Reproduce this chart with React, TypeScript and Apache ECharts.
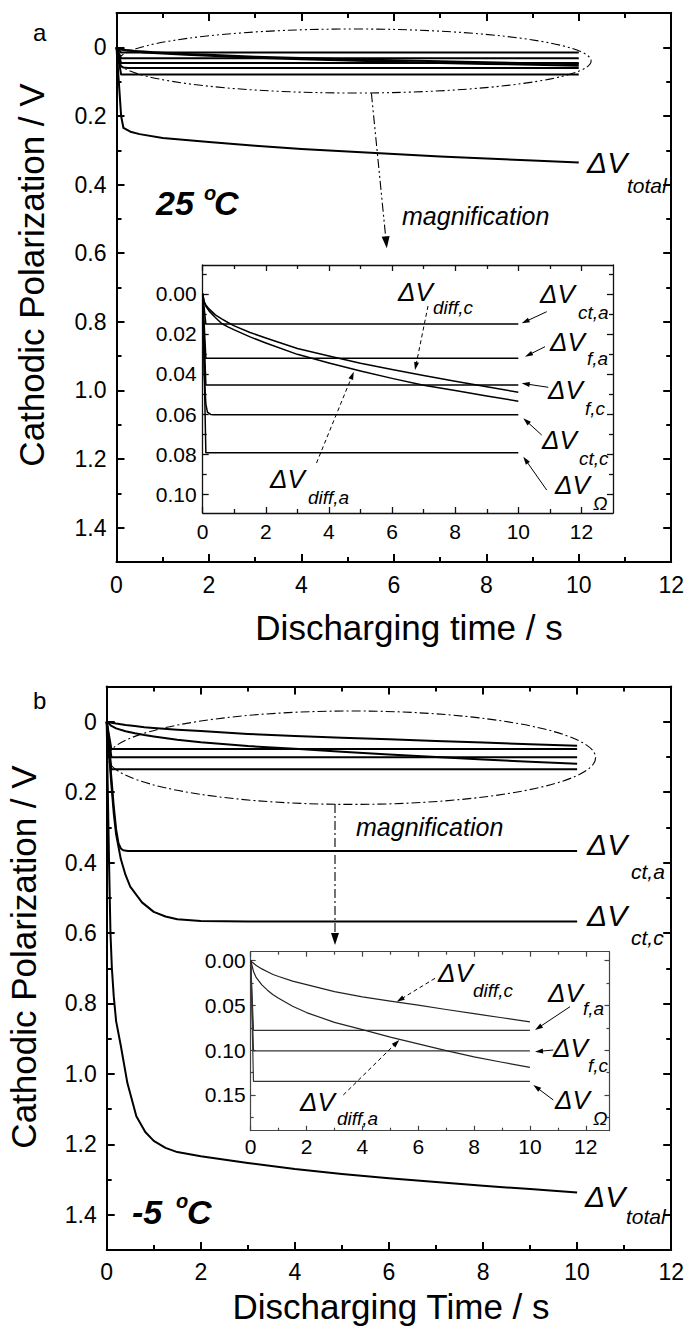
import React, { useEffect, useRef } from "react";
import * as echarts from "echarts";

const FONT = '"Liberation Sans", Arial, Helvetica, sans-serif';

// ---------- Panel a (25 °C) ----------
const tStepA = [0, 0.1, 10];
const ohmA = [0, 0.0793, 0.0793];
const ctaA = [0, 0.0151, 0.0151];
const faA = [0, 0.0322, 0.0322];
const fcA = [0, 0.0455, 0.0455];
const tCtcA = [0, 0.05, 0.1, 0.15, 0.25, 0.35, 10];
const ctcA = [0, 0.04, 0.055, 0.059, 0.0602, 0.0603, 0.0603];
const tDiff = [0, 0.05, 0.1, 0.2, 0.4, 0.6, 0.8, 1, 1.5, 2, 3, 4, 5, 6, 7, 8, 9, 10];
const diffcA = [0, 0.004, 0.0055, 0.0075, 0.0105, 0.0125, 0.0143, 0.016, 0.0193, 0.022, 0.0273, 0.031, 0.0346, 0.0378, 0.0408, 0.0436, 0.0464, 0.0491];
const diffaA = [0, 0.0045, 0.0062, 0.0085, 0.0118, 0.0148, 0.0165, 0.018, 0.0215, 0.0245, 0.0302, 0.0345, 0.0385, 0.0422, 0.0456, 0.0483, 0.051, 0.0536];
const tTotA = [0, 0.05, 0.1, 0.15, 0.3, 0.5, 1, 2, 3, 4, 5, 6, 7, 8, 9, 10];
const totA = [0, 0.1, 0.2, 0.235, 0.246, 0.253, 0.264, 0.276, 0.287, 0.296, 0.304, 0.311, 0.318, 0.324, 0.33, 0.336];

// ---------- Panel b (-5 °C) ----------
const tStepB = [0, 0.1, 10];
const faB = [0, 0.0778, 0.0778];
const fcB = [0, 0.1008, 0.1008];
const ohmB = [0, 0.1348, 0.1348];
const tCtaB = [0, 0.05, 0.1, 0.15, 0.2, 0.25, 0.3, 0.35, 0.45, 0.6, 10];
const ctaB = [0, 0.08, 0.16, 0.24, 0.305, 0.345, 0.36, 0.365, 0.367, 0.367, 0.367];
const tCtcB = [0, 0.05, 0.1, 0.15, 0.2, 0.3, 0.4, 0.5, 0.75, 1, 1.25, 1.5, 2, 3, 10];
const ctcB = [0, 0.09, 0.18, 0.26, 0.32, 0.39, 0.435, 0.468, 0.513, 0.54, 0.553, 0.561, 0.566, 0.5675, 0.5675];
const diffcB = [0, 0.0018, 0.003, 0.0053, 0.0092, 0.0124, 0.0155, 0.0177, 0.0228, 0.0267, 0.0346, 0.0404, 0.0452, 0.0497, 0.0546, 0.0592, 0.0638, 0.0685];
const diffaB = [0, 0.006, 0.012, 0.019, 0.027, 0.033, 0.038, 0.042, 0.051, 0.058, 0.069, 0.077, 0.0855, 0.093, 0.1005, 0.1075, 0.1135, 0.1193];
const tTotB = [0, 0.02, 0.05, 0.08, 0.11, 0.15, 0.2, 0.3, 0.44, 0.63, 0.82, 1, 1.25, 1.5, 2, 3, 4, 5, 6, 7, 8, 9, 10];
const totB = [0, 0.17, 0.4, 0.6, 0.7, 0.78, 0.85, 0.92, 1.026, 1.12, 1.165, 1.19, 1.21, 1.222, 1.234, 1.253, 1.27, 1.284, 1.296, 1.307, 1.3175, 1.327, 1.3365];

// ---------- Ticks ----------
const xMajor = [0, 2, 4, 6, 8, 10, 12];
const xMinor = [1, 3, 5, 7, 9, 11];
const mainYMajor = [0, 0.2, 0.4, 0.6, 0.8, 1.0, 1.2, 1.4];
const mainYMinor = [0.1, 0.3, 0.5, 0.7, 0.9, 1.1, 1.3];
const insetAYMajor = [0, 0.02, 0.04, 0.06, 0.08, 0.1];
const insetAYMinor = [-0.01, 0.01, 0.03, 0.05, 0.07, 0.09];
const insetBYMajor = [0, 0.05, 0.1, 0.15];
const insetBYMinor = [0.025, 0.075, 0.125, 0.175];

type AxisSpec = {
  grid: number; min: number; max: number; majors: number[]; minors: number[];
  fmt: (v: number) => string; majorLen: number; minorLen: number; lineW: number;
  color: string; labelSize: number; labelMargin: number;
};

function addAxes(dim: "x" | "y", s: AxisSpec, list: any[]): number {
  const positions = dim === "x" ? ["bottom", "top"] : ["left", "right"];
  const base = {
    type: "value", gridIndex: s.grid, min: s.min, max: s.max, inverse: dim === "y",
    splitLine: { show: false }, minorTick: { show: false }, minorSplitLine: { show: false },
    silent: true, scale: false,
  };
  const mainIdx = list.length;
  positions.forEach((pos, pi) => {
    list.push({
      ...base, position: pos,
      axisLine: { show: true, onZero: false, lineStyle: { color: s.color, width: s.lineW } },
      axisTick: { show: true, inside: true, length: s.majorLen, customValues: s.majors, lineStyle: { color: s.color, width: s.lineW } },
      axisLabel: pi === 0
        ? { show: true, customValues: s.majors, formatter: s.fmt, fontSize: s.labelSize, fontFamily: FONT, color: "#000", margin: s.labelMargin }
        : { show: false },
    });
    list.push({
      ...base, position: pos,
      axisLine: { show: false, onZero: false },
      axisTick: { show: true, inside: true, length: s.minorLen, customValues: s.minors, lineStyle: { color: s.color, width: s.lineW } },
      axisLabel: { show: false },
    });
  });
  return mainIdx;
}

function ser(xs: number[], ys: number[], xi: number, yi: number, w: number, color = "#000") {
  return {
    type: "line", xAxisIndex: xi, yAxisIndex: yi, data: xs.map((x, i) => [x, ys[i]]),
    showSymbol: false, symbol: "none", lineStyle: { width: w, color, join: "round" }, clip: true, silent: true,
    smooth: false, z: 3,
  };
}

function txt(text: string, x: number, y: number, font: string, align = "left", rotation = 0) {
  return {
    type: "text", x, y, rotation, silent: true, z: 100,
    style: { text, font, fill: "#000", align, textAlign: align, verticalAlign: "middle", textVerticalAlign: "middle" },
  };
}

function arrow(x1: number, y1: number, x2: number, y2: number, dash: number[] | null, lw: number, hl: number, hw: number) {
  const dx = x2 - x1, dy = y2 - y1, L = Math.hypot(dx, dy);
  const ux = dx / L, uy = dy / L;
  const bx = x2 - ux * hl, by = y2 - uy * hl;
  const px = -uy, py = ux;
  const st: any = { stroke: "#000", lineWidth: lw, fill: null };
  if (dash) st.lineDash = dash;
  return [
    { type: "line", silent: true, z: 100, shape: { x1, y1, x2: bx + ux * 1, y2: by + uy * 1 }, style: st },
    {
      type: "polygon", silent: true, z: 100,
      shape: { points: [[x2, y2], [bx + (px * hw) / 2, by + (py * hw) / 2], [bx - (px * hw) / 2, by - (py * hw) / 2]] },
      style: { fill: "#000" },
    },
  ];
}

export default function App() {
  const ref = useRef<HTMLDivElement>(null);
  useEffect(() => {
    if (!ref.current) return;
    const chart = echarts.init(ref.current, null, { renderer: "svg" });
    const xAxes: any[] = [];
    const yAxes: any[] = [];
    const fmtX = (v: number) => String(Math.round(v));
    const fmtMainY = (v: number) => (Math.abs(v) < 1e-9 ? "0" : v.toFixed(1));
    const fmt2 = (v: number) => v.toFixed(2);

    // grid 0: main a; 1: inset a; 2: main b; 3: inset b
    const xa = addAxes("x", { grid: 0, min: 0, max: 12, majors: xMajor, minors: xMinor, fmt: fmtX, majorLen: 8, minorLen: 5, lineW: 2, color: "#000", labelSize: 23, labelMargin: 11 }, xAxes);
    const ya = addAxes("y", { grid: 0, min: -0.1, max: 1.5, majors: mainYMajor, minors: mainYMinor, fmt: fmtMainY, majorLen: 8, minorLen: 5, lineW: 2, color: "#000", labelSize: 23, labelMargin: 10 }, yAxes);
    const xia = addAxes("x", { grid: 1, min: 0, max: 13, majors: xMajor, minors: xMinor, fmt: fmtX, majorLen: 6, minorLen: 4, lineW: 1.3, color: "#111", labelSize: 21, labelMargin: 8 }, xAxes);
    const yia = addAxes("y", { grid: 1, min: -0.0144, max: 0.1094, majors: insetAYMajor, minors: insetAYMinor, fmt: fmt2, majorLen: 6, minorLen: 4, lineW: 1.3, color: "#111", labelSize: 21, labelMargin: 6 }, yAxes);
    const xb = addAxes("x", { grid: 2, min: 0, max: 12, majors: xMajor, minors: xMinor, fmt: fmtX, majorLen: 8, minorLen: 5, lineW: 2, color: "#000", labelSize: 23, labelMargin: 10 }, xAxes);
    const yb = addAxes("y", { grid: 2, min: -0.1, max: 1.5, majors: mainYMajor, minors: mainYMinor, fmt: fmtMainY, majorLen: 8, minorLen: 5, lineW: 2, color: "#000", labelSize: 23, labelMargin: 10 }, yAxes);
    const xib = addAxes("x", { grid: 3, min: 0, max: 12.85, majors: xMajor, minors: xMinor, fmt: fmtX, majorLen: 5, minorLen: 3, lineW: 1.2, color: "#444", labelSize: 21, labelMargin: 5 }, xAxes);
    const yib = addAxes("y", { grid: 3, min: -0.01, max: 0.19, majors: insetBYMajor, minors: insetBYMinor, fmt: fmt2, majorLen: 5, minorLen: 3, lineW: 1.2, color: "#444", labelSize: 21, labelMargin: 5 }, yAxes);

    const series: any[] = [
      // main a
      ser(tStepA, ohmA, xa, ya, 2),
      ser(tStepA, ctaA, xa, ya, 2),
      ser(tStepA, faA, xa, ya, 2),
      ser(tStepA, fcA, xa, ya, 2),
      ser(tCtcA, ctcA, xa, ya, 2),
      ser(tDiff, diffcA, xa, ya, 2),
      ser(tDiff, diffaA, xa, ya, 2),
      ser(tTotA, totA, xa, ya, 2),
      // inset a
      ser(tStepA, ohmA, xia, yia, 1.5),
      ser(tStepA, ctaA, xia, yia, 1.5),
      ser(tStepA, faA, xia, yia, 1.5),
      ser(tStepA, fcA, xia, yia, 1.5),
      ser(tCtcA, ctcA, xia, yia, 1.5),
      ser(tDiff, diffcA, xia, yia, 1.5),
      ser(tDiff, diffaA, xia, yia, 1.5),
      // main b
      ser(tStepB, faB, xb, yb, 2),
      ser(tStepB, fcB, xb, yb, 2),
      ser(tStepB, ohmB, xb, yb, 2),
      ser(tCtaB, ctaB, xb, yb, 2),
      ser(tCtcB, ctcB, xb, yb, 2),
      ser(tDiff, diffcB, xb, yb, 2),
      ser(tDiff, diffaB, xb, yb, 2),
      ser(tTotB, totB, xb, yb, 2),
      // inset b
      ser(tStepB, faB, xib, yib, 1.2, "#333"),
      ser(tStepB, fcB, xib, yib, 1.2, "#333"),
      ser(tStepB, ohmB, xib, yib, 1.2, "#333"),
      ser(tDiff, diffcB, xib, yib, 1.2, "#222"),
      ser(tDiff, diffaB, xib, yib, 1.2, "#222"),
    ];

    const it = `italic 26px ${FONT}`;
    const sub = `italic 19px ${FONT}`;
    const bigIt = `italic 30px ${FONT}`;
    const bigSub = `italic 21px ${FONT}`;
    const bi = `italic bold 34px ${FONT}`;
    const biS = `italic bold 20px ${FONT}`;
    const mag = `italic 25px ${FONT}`;
    const title = `35px ${FONT}`;

    const elements: any[] = [
      // panel a
      txt("a", 33, 32, `24px ${FONT}`),
      txt("25", 156, 203, bi), txt("o", 204, 193, biS), txt("C", 214, 203, bi),
      txt("magnification", 402, 216, mag),
      txt("ΔV", 587, 162, bigIt), txt("total", 627, 185, bigSub),
      txt("ΔV", 540, 294, it), txt("ct,a", 578, 312, sub),
      txt("ΔV", 550, 342, it), txt("f,a", 587, 358, sub),
      txt("ΔV", 548, 390, it), txt("f,c", 585, 408, sub),
      txt("ΔV", 542, 440, it), txt("ct,c", 579, 458, sub),
      txt("ΔV", 555, 485, it), txt("Ω", 593, 503, sub),
      txt("ΔV", 398, 292, it), txt("diff,c", 433, 307, sub),
      txt("ΔV", 270, 479, it), txt("diff,a", 308, 497, sub),
      txt("Discharging time / s", 409, 627, title, "center"),
      txt("Cathodic Polarization / V", 31, 275, title, "center", Math.PI / 2),
      {
        type: "ellipse", silent: true, z: 100, shape: { cx: 354.6, cy: 61, rx: 236.5, ry: 32 },
        style: { fill: null, stroke: "#000", lineWidth: 1.1, lineDash: [9, 3, 2, 3, 2, 3] },
      },
      ...arrow(371.4, 93.3, 386.8, 248.3, [9, 3, 2, 3, 2, 3], 1.1, 12, 8),
      ...arrow(428, 306, 415, 370, [4, 3], 1, 8, 5),
      ...arrow(316.5, 463, 353.8, 371.7, [4, 3], 1, 8, 5),
      ...arrow(546.7, 311.7, 521.7, 323.3, null, 1, 8, 5),
      ...arrow(545, 346.7, 525, 356.7, null, 1, 8, 5),
      ...arrow(548.3, 387.3, 521.7, 383.3, null, 1, 8, 5),
      ...arrow(541.7, 435, 523.3, 418.3, null, 1, 8, 5),
      ...arrow(546.7, 490, 523.3, 456.7, null, 1, 8, 5),
      // panel b
      txt("b", 33, 700, `24px ${FONT}`),
      txt("-5", 132, 1212, bi), txt("o", 176, 1201, biS), txt("C", 187, 1212, bi),
      txt("magnification", 356, 827, mag),
      txt("ΔV", 587, 844, bigIt), txt("ct,a", 631, 871, bigSub),
      txt("ΔV", 587, 915.5, bigIt), txt("ct,c", 631, 937.5, bigSub),
      txt("ΔV", 585, 1196, bigIt), txt("total", 626, 1216, bigSub),
      txt("ΔV", 438, 973, it), txt("diff,c", 473, 990, sub),
      txt("ΔV", 300, 1102, it), txt("diff,a", 337, 1118, sub),
      txt("ΔV", 548, 993, it), txt("f,a", 583, 1008, sub),
      txt("ΔV", 553, 1047.5, it), txt("f,c", 588, 1065, sub),
      txt("ΔV", 555, 1100, it), txt("Ω", 593, 1118, sub),
      txt("Discharging Time / s", 391, 1306, title, "center"),
      txt("Cathodic Polarization / V", 23, 957, title, "center", Math.PI / 2),
      {
        type: "ellipse", silent: true, z: 100, shape: { cx: 351.8, cy: 757.7, rx: 243.8, ry: 46.7 },
        style: { fill: null, stroke: "#000", lineWidth: 1.1, lineDash: [9, 3, 2, 3] },
      },
      ...arrow(335, 804, 335, 945, [9, 3, 2, 3], 1.1, 12, 8),
      ...arrow(435, 978.3, 396.7, 1001.7, [4, 3], 1, 8, 5),
      ...arrow(343.3, 1095, 399.3, 1040, [4, 3], 1, 8, 5),
      ...arrow(570, 1006.7, 535, 1030, null, 1, 8, 5),
      ...arrow(553.3, 1050, 535, 1051.7, null, 1, 8, 5),
      ...arrow(553.3, 1100, 533.3, 1085, null, 1, 8, 5),
    ];

    chart.setOption({
      animation: false,
      backgroundColor: "#fff",
      grid: [
        { left: 116.5, top: 13, width: 555, height: 549, show: false },
        { left: 202.7, top: 265, width: 410.3, height: 248, show: true, backgroundColor: "#fff", borderWidth: 0 },
        { left: 106.7, top: 686.5, width: 565.5, height: 563.5, show: false },
        { left: 250.7, top: 951.7, width: 358.8, height: 179, show: true, backgroundColor: "#fff", borderWidth: 0 },
      ],
      xAxis: xAxes,
      yAxis: yAxes,
      series,
      graphic: { elements },
    });
    return () => chart.dispose();
  }, []);
  return (
    <div
      ref={ref}
      style={{ position: "absolute", left: 0, top: 0, width: 687, height: 1330, background: "#fff" }}
    />
  );
}
